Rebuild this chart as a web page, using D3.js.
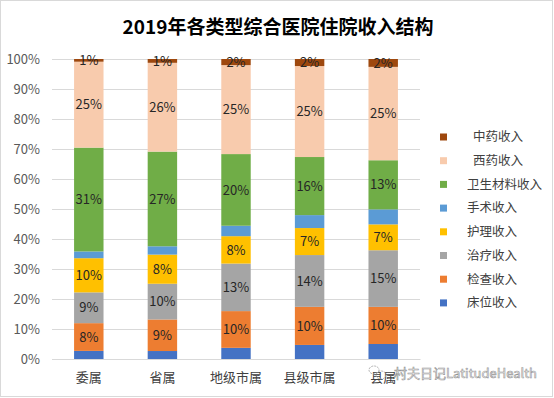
<!DOCTYPE html>
<html>
<head>
<meta charset="utf-8">
<script src="https://cdn.jsdelivr.net/npm/d3@7"></script>
<style>
  html, body { margin: 0; padding: 0; background: #fff; }
  svg { display: block; font-family: "Noto Sans CJK SC", "Noto Sans", sans-serif; }
</style>
</head>
<body>
<div id="chart"></div>
<script>
// categories (hospital type) and the income series, raw share of total income in %
const categories = ['委属', '省属', '地级市属', '县级市属', '县属'];
const seriesNames = ['床位收入', '检查收入', '治疗收入', '护理收入', '手术收入', '卫生材料收入', '西药收入', '中药收入'];
const bedIncome = [2.4, 2.3, 3.1, 3.8, 4.0];
const examIncome = [8.2, 9.1, 10.2, 10.3, 9.9];
const treatIncome = [9.1, 10.3, 13.2, 14.0, 15.1];
const nursingIncome = [10.1, 8.4, 7.6, 7.3, 6.9];
const surgeryIncome = [2.0, 2.4, 2.9, 3.5, 4.0];
const materialIncome = [30.7, 27.3, 19.9, 15.7, 13.1];
const westernIncome = [25.4, 25.6, 24.7, 24.6, 24.9];
const tcmIncome = [0.8, 1.1, 1.7, 1.9, 2.1];
const yTicks = [0, 0.1, 0.2, 0.3, 0.4, 0.5, 0.6, 0.7, 0.8, 0.9, 1];
// series that carry a data label
const labelled = ['检查收入', '治疗收入', '护理收入', '卫生材料收入', '西药收入', '中药收入'];

const seriesValues = [bedIncome, examIncome, treatIncome, nursingIncome, surgeryIncome, materialIncome, westernIncome, tcmIncome];
const colors = ['#4472C4', '#ED7D31', '#A5A5A5', '#FFC000', '#5B9BD5', '#70AD47', '#F8CBAD', '#9E480E'];

const width = 554, height = 398;
const plot = { left: 52, right: 420, top: 59, bottom: 359 };

const rows = categories.map((c, i) => {
  const r = { cat: c };
  seriesNames.forEach((s, j) => { r[s] = seriesValues[j][i]; });
  return r;
});

const stacked = d3.stack().keys(seriesNames).offset(d3.stackOffsetExpand)(rows);

const x = d3.scaleBand().domain(categories).range([plot.left, plot.right])
  .paddingInner(0.6).paddingOuter(0.3);
const y = d3.scaleLinear().domain([0, 1]).range([plot.bottom, plot.top]);
const color = d3.scaleOrdinal(seriesNames, colors);

const svg = d3.select('#chart').append('svg')
  .attr('width', width).attr('height', height);

svg.append('rect')
  .attr('x', 0.5).attr('y', 0.5)
  .attr('width', width - 2).attr('height', height - 2)
  .attr('fill', '#fff').attr('stroke', '#d9d9d9');

svg.append('text')
  .attr('x', 278).attr('y', 33.5)
  .attr('text-anchor', 'middle')
  .attr('font-size', 19).attr('font-weight', 'bold')
  .attr('fill', '#000')
  .text('2019年各类型综合医院住院收入结构');

// grid + y axis
const yAxis = svg.append('g')
  .attr('transform', `translate(${plot.left},0)`)
  .call(d3.axisLeft(y).tickValues(yTicks).tickFormat(d3.format('.0%'))
    .tickSize(-(plot.right - plot.left)).tickPadding(12));
yAxis.select('.domain').remove();
yAxis.selectAll('.tick line').attr('stroke', '#d9d9d9');
yAxis.selectAll('.tick text').attr('font-size', 13).attr('fill', '#595959')
  .attr('font-family', '"Noto Sans CJK SC", "Noto Sans", sans-serif');

// x axis
const xAxis = svg.append('g')
  .attr('transform', `translate(0,${plot.bottom})`)
  .call(d3.axisBottom(x).tickSize(0).tickPadding(14));
xAxis.select('.domain').attr('stroke', '#d9d9d9');
xAxis.selectAll('.tick text').attr('font-size', 13).attr('fill', '#404040')
  .attr('font-family', '"Noto Sans CJK SC", "Noto Sans", sans-serif');

// bars
const layers = svg.append('g').selectAll('g')
  .data(stacked)
  .join('g')
  .attr('fill', d => color(d.key));

layers.selectAll('rect')
  .data(d => d.map(p => Object.assign(p, { key: d.key })))
  .join('rect')
  .attr('x', d => x(d.data.cat))
  .attr('width', x.bandwidth())
  .attr('y', d => y(d[1]))
  .attr('height', d => y(d[0]) - y(d[1]));

// data labels (raw share, rounded)
const labels = svg.append('g')
  .attr('font-size', 13).attr('fill', '#262626')
  .attr('text-anchor', 'middle');
stacked.filter(s => labelled.includes(s.key)).forEach(s => {
  labels.selectAll(null)
    .data(s)
    .join('text')
    .attr('x', d => x(d.data.cat) + x.bandwidth() / 2)
    .attr('y', d => y((d[0] + d[1]) / 2))
    .attr('dy', '0.36em')
    .text(d => Math.round(d.data[s.key]) + '%');
});

// legend, top entry = last series
const legend = svg.append('g').attr('transform', 'translate(440,137)');
const legendItems = legend.selectAll('g')
  .data(seriesNames.slice().reverse())
  .join('g')
  .attr('transform', (d, i) => `translate(0,${i * 23.7})`);
legendItems.append('rect')
  .attr('x', 0).attr('y', -3.5)
  .attr('width', 7).attr('height', 7)
  .attr('fill', d => color(d));
legendItems.append('text')
  .attr('x', d => (d === '中药收入' || d === '西药收入') ? 33 : 27)
  .attr('dy', '0.35em')
  .attr('font-size', 12.5).attr('fill', '#404040')
  .text(d => d);

// watermark
const wm = svg.append('g').attr('opacity', 0.9);
wm.append('ellipse').attr('cx', 374).attr('cy', 370).attr('rx', 5).attr('ry', 4)
  .attr('fill', 'none').attr('stroke', '#aaa').attr('stroke-dasharray', '2,1');
wm.append('ellipse').attr('cx', 381).attr('cy', 375).attr('rx', 5).attr('ry', 4)
  .attr('fill', 'none').attr('stroke', '#aaa').attr('stroke-dasharray', '2,1');
wm.append('text')
  .attr('x', 394).attr('y', 378)
  .attr('font-size', 13).attr('fill', '#fff')
  .attr('stroke', '#8a8a8a').attr('stroke-width', 0.6)
  .text('村夫日记LatitudeHealth');
</script>
</body>
</html>
